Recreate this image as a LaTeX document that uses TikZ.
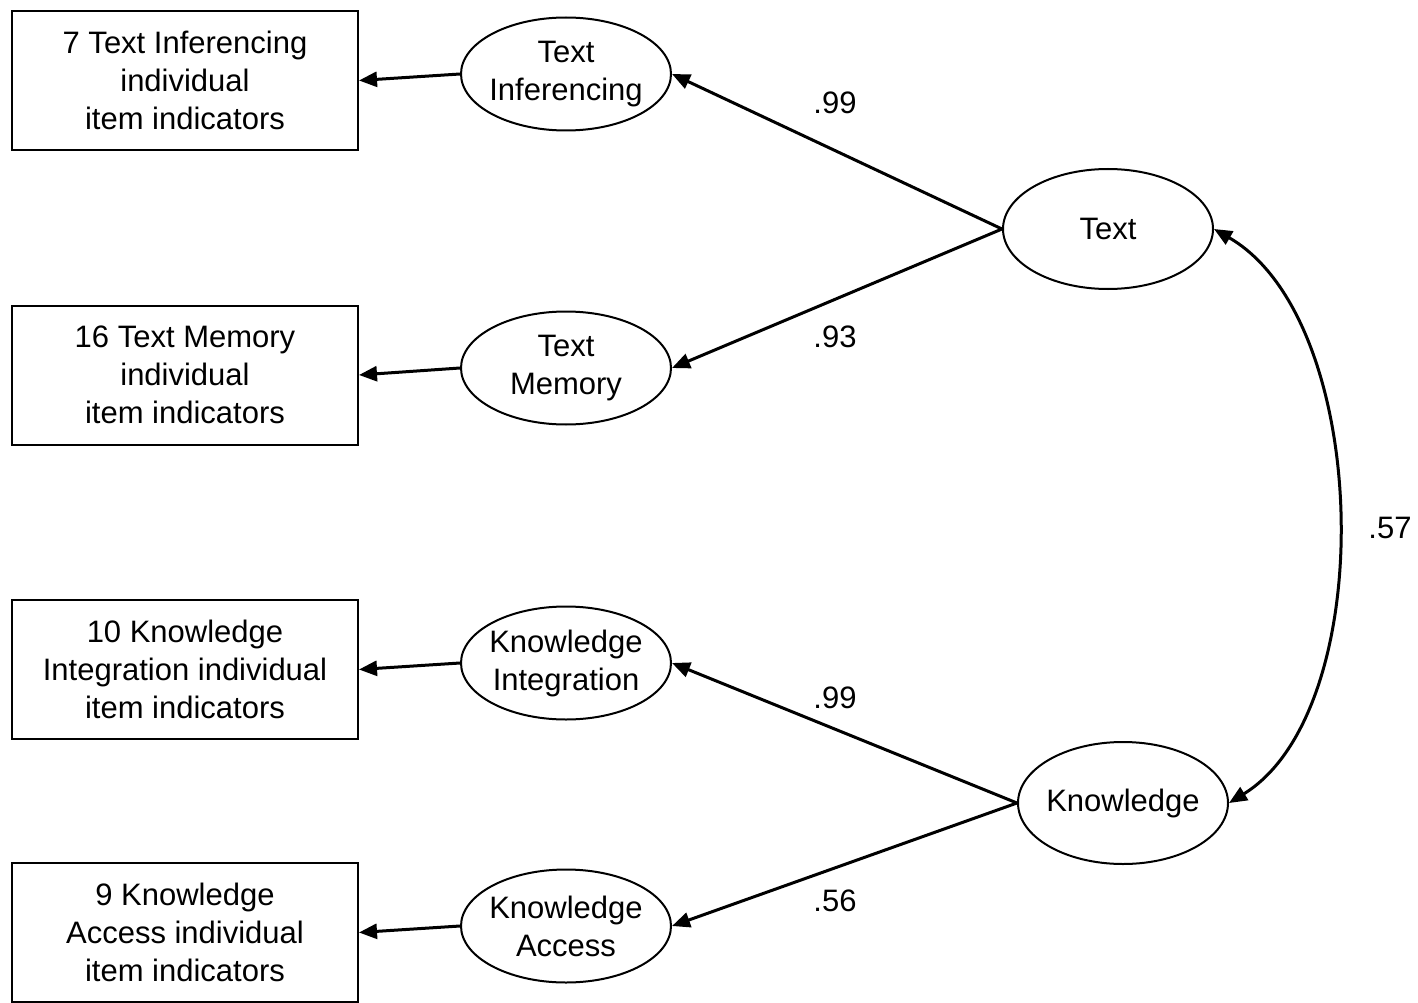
\documentclass[tikz,border=0pt]{standalone}
\usepackage{fontspec}
\setmainfont{Liberation Sans}
\usetikzlibrary{shapes.geometric,arrows.meta}
\begin{document}
\begin{tikzpicture}[x=1pt,y=-1pt,
  every node/.style={font=\fontsize{31}{38}\selectfont, align=center},
  indbox/.style={draw, line width=2pt, rectangle, minimum width=346pt, minimum height=139pt, inner sep=0pt},
  lat/.style={draw, line width=2pt, ellipse, minimum width=210pt, minimum height=113pt, inner sep=-6pt},
  load/.style={line width=3pt, -{Triangle[length=18pt,width=15pt]}},
  lbl/.style={inner sep=0pt}]
\useasboundingbox (0,0) rectangle (1418,1003);
\node[indbox] (b1) at (185,80.5) {7 Text Inferencing\\individual\\item indicators};
\node[indbox] (b2) at (185,375) {16 Text Memory\\individual\\item indicators};
\node[indbox] (b3) at (185,669.5) {10 Knowledge\\Integration individual\\item indicators};
\node[indbox] (b4) at (185,932.5) {9 Knowledge\\Access individual\\item indicators};
\node[lat] (ti) at (566,74) {Text\\Inferencing};
\node[lat] (tm) at (566,368) {Text\\Memory};
\node[lat] (ki) at (566,663) {Knowledge\\Integration};
\node[lat] (ka) at (566,926) {Knowledge\\Access};
\node[lat, minimum height=120pt] (text) at (1108,229) {Text};
\node[lat, minimum height=122pt] (know) at (1123,803) {Knowledge};
\draw[load] (ti.west) -- (b1.east);
\draw[load] (tm.west) -- (b2.east);
\draw[load] (ki.west) -- (b3.east);
\draw[load] (ka.west) -- (b4.east);
\draw[load] (text.west) -- (ti.east);
\draw[load] (text.west) -- (tm.east);
\draw[load] (know.west) -- (ki.east);
\draw[load] (know.west) -- (ka.east);
\draw[line width=3pt, {Triangle[length=18pt,width=15pt]}-{Triangle[length=18pt,width=15pt]}]
  (text.east) .. controls (1372,320) and (1380,710) .. (know.east);
\node[lbl] (l1) at (835,103) {.99};
\node[lbl] (l2) at (835,337) {.93};
\node[lbl] (l3) at (835,698) {.99};
\node[lbl] (l4) at (835,901) {.56};
\node[lbl] (l5) at (1390,528) {.57};
\end{tikzpicture}
\end{document}
